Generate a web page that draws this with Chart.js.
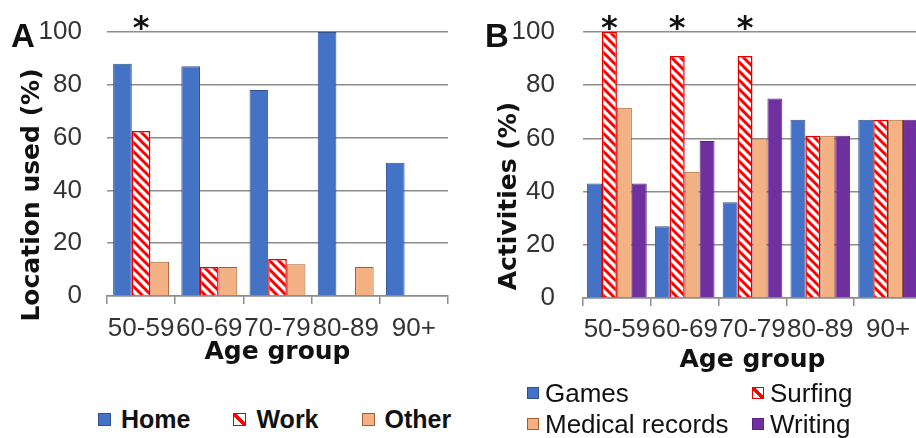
<!DOCTYPE html>
<html>
<head>
<meta charset="utf-8">
<script src="https://cdn.jsdelivr.net/npm/chart.js@4.4.1/dist/chart.umd.min.js"></script>
<style>
  html, body { margin: 0; padding: 0; background: #fff; overflow: hidden; }
  #wrap { position: relative; width: 916px; height: 438px; overflow: hidden; background: #fff; }
  canvas { position: absolute; top: 0; }
  #chartA { left: 0; }
  #chartB { left: 470px; }
  .panel { position: absolute; font: bold 33px "Liberation Sans", Arial, sans-serif; line-height: 1; color: #111; }
  .ytitle { position: absolute; font: bold 25px "DejaVu Sans", sans-serif; line-height: 1; color: #111;
            white-space: nowrap; transform: translate(-50%, -50%) rotate(-90deg); }
  .legendA { position: absolute; left: 98px; top: 407px; display: flex; align-items: center; gap: 43px;
             font: bold 25px "Liberation Sans", Arial, sans-serif; line-height: 1; color: #111; }
  .legendB { position: absolute; left: 527px; top: 377px; display: grid; grid-template-columns: 225px auto;
             grid-auto-rows: 31px; align-items: center;
             font: 26px "Liberation Sans", Arial, sans-serif; line-height: 1; color: #111; }
  .item { display: flex; align-items: center; white-space: nowrap; }
  .legendA .sw { width: 13px; height: 13px; margin-right: 10px; box-sizing: border-box; }
  .legendB .sw { width: 12px; height: 12px; margin-right: 6px; box-sizing: border-box; }
</style>
</head>
<body>
<div id="wrap">
  <canvas id="chartA" width="460" height="380"></canvas>
  <canvas id="chartB" width="470" height="380"></canvas>
  <div class="panel" style="left:11px; top:19px;">A</div>
  <div class="panel" style="left:485px; top:19px;">B</div>
  <div class="ytitle" id="ytA" style="left:30px; top:195px;"></div>
  <div class="ytitle" id="ytB" style="left:507px; top:196px;"></div>
  <div class="legendA" id="legA"></div>
  <div class="legendB" id="legB"></div>
</div>
<script>
// Age groups shared by both panels
const ageGroups = ['50-59', '60-69', '70-79', '80-89', '90+'];

// Panel A: location where the internet is used (%)
const homeA  = [88, 87, 78, 100, 50.5];
const workA  = [62.5, 11, 14, 0, 0];
const otherA = [13, 11, 12, 11, 0];
const starsA = [true, false, false, false, false];

// Panel B: online activities (%)
const gamesB   = [43, 27, 36, 67, 67];
const surfingB = [100, 91, 91, 61, 67];
const medicalB = [71.5, 47.5, 60, 61, 67];
const writingB = [43, 59, 75, 61, 67];
const starsB   = [true, true, true, false, false];

const yTickValues = [0, 20, 40, 60, 80, 100];

const titleA = 'Location used (%)';
const titleB = 'Activities (%)';
const xTitle = 'Age group';
const namesA = ['Home', 'Work', 'Other'];
const namesB = ['Games', 'Surfing', 'Medical records', 'Writing'];

// colours
const BLUE = '#4472C4', BLUE_EDGE = '#2F528F';
const ORANGE = '#F4B183', ORANGE_EDGE = '#A65E2E';
const PURPLE = '#7030A0', PURPLE_EDGE = '#5B2483';
const RED = '#FF0000', RED_EDGE = '#E00000';
const GRID = '#8C8C8C';
const TICK_TXT = '#333333';

// red diagonal hatch on white
function makeHatch() {
  const s = 9;
  const c = document.createElement('canvas');
  c.width = s; c.height = s;
  const g = c.getContext('2d');
  g.fillStyle = '#ffffff';
  g.fillRect(0, 0, s, s);
  g.strokeStyle = RED;
  g.lineWidth = 3;
  g.beginPath();
  g.moveTo(-2, -2); g.lineTo(s + 2, s + 2);
  g.moveTo(-2, s - 2); g.lineTo(2, s + 2);
  g.moveTo(s - 2, -2); g.lineTo(s + 2, 2);
  g.stroke();
  return g.createPattern(c, 'repeat');
}

const hatchA = makeHatch();
const hatchB = makeHatch();

const edge = (w) => (ctx) => (ctx.raw ? w : 0);

// significance asterisks above the bars of one dataset
const sigStars = {
  id: 'sigStars',
  afterDatasetsDraw(chart, args, opts) {
    const meta = chart.getDatasetMeta(opts.dataset);
    const ctx = chart.ctx;
    ctx.save();
    ctx.font = 'bold 32px "DejaVu Sans"';
    ctx.fillStyle = '#111';
    ctx.textAlign = 'center';
    ctx.textBaseline = 'alphabetic';
    opts.flags.forEach((on, i) => {
      if (on) ctx.fillText('*', meta.data[i].x, chart.chartArea.top + 6);
    });
    ctx.restore();
  }
};

function baseOptions(cfg) {
  return {
    responsive: false,
    animation: false,
    layout: { padding: { left: 0, right: cfg.padRight, top: 32, bottom: 0 } },
    datasets: { bar: { categoryPercentage: cfg.catPct, barPercentage: 1, borderSkipped: 'start' } },
    plugins: {
      legend: { display: false },
      tooltip: { enabled: false },
      sigStars: { dataset: 1, flags: cfg.stars }
    },
    scales: {
      x: {
        grid: { display: true, drawOnChartArea: false, drawTicks: true, tickLength: 8, color: GRID, lineWidth: 1.5 },
        border: { display: true, color: GRID, width: 1.5 },
        ticks: { font: { family: 'Liberation Sans', size: 26 }, color: TICK_TXT, padding: cfg.xTickPad,
                 maxRotation: 0, minRotation: 0, autoSkip: false },
        title: { display: true, text: xTitle, color: '#111',
                 font: { family: 'DejaVu Sans', weight: 'bold', size: 25 },
                 padding: { top: 0, bottom: cfg.xTitlePad } },
        afterFit(scale) {
          scale.height = cfg.xHeight;
          scale.paddingLeft = 0;
          scale.paddingRight = 0;
        }
      },
      y: {
        min: 0, max: 100,
        afterBuildTicks(scale) { scale.ticks = yTickValues.map(v => ({ value: v })); },
        grid: { color: GRID, lineWidth: 1.5, drawTicks: false },
        border: { display: false },
        ticks: { font: { family: 'Liberation Sans', size: 26 }, color: TICK_TXT, padding: cfg.yTickPad },
        afterFit(scale) {
          scale.width = cfg.yWidth;
          scale.paddingTop = 0;
          scale.paddingBottom = 0;
        }
      }
    }
  };
}

new Chart(document.getElementById('chartA'), {
  type: 'bar',
  data: {
    labels: ageGroups,
    datasets: [
      { label: namesA[0], data: homeA,  backgroundColor: BLUE,   borderColor: BLUE_EDGE,   borderWidth: edge(1) },
      { label: namesA[1], data: workA,  backgroundColor: hatchA, borderColor: RED_EDGE,    borderWidth: edge(1.5) },
      { label: namesA[2], data: otherA, backgroundColor: ORANGE, borderColor: ORANGE_EDGE, borderWidth: edge(1) }
    ]
  },
  options: baseOptions({ padRight: 12, catPct: 0.82, stars: starsA, xTickPad: 9, xTitlePad: 13,
                         xHeight: 84, yTickPad: 25, yWidth: 107 }),
  plugins: [sigStars]
});

new Chart(document.getElementById('chartB'), {
  type: 'bar',
  data: {
    labels: ageGroups,
    datasets: [
      { label: namesB[0], data: gamesB,   backgroundColor: BLUE,   borderColor: BLUE_EDGE,   borderWidth: edge(1) },
      { label: namesB[1], data: surfingB, backgroundColor: hatchB, borderColor: RED_EDGE,    borderWidth: edge(1.5) },
      { label: namesB[2], data: medicalB, backgroundColor: ORANGE, borderColor: ORANGE_EDGE, borderWidth: edge(1) },
      { label: namesB[3], data: writingB, backgroundColor: PURPLE, borderColor: PURPLE_EDGE, borderWidth: edge(1) }
    ]
  },
  options: baseOptions({ padRight: 18, catPct: 0.88, stars: starsB, xTickPad: 8, xTitlePad: 5,
                         xHeight: 82, yTickPad: 28, yWidth: 113 }),
  plugins: [sigStars]
});

// axis titles and legends
document.getElementById('ytA').textContent = titleA;
document.getElementById('ytB').textContent = titleB;

const swatchCss = {
  Home: `background:${BLUE};border:1px solid ${BLUE_EDGE};`,
  Games: `background:${BLUE};border:1px solid ${BLUE_EDGE};`,
  Work: `background:linear-gradient(45deg,#fff 38%,${RED} 38%,${RED} 62%,#fff 62%);border:1.5px solid ${RED_EDGE};`,
  Surfing: `background:linear-gradient(45deg,#fff 38%,${RED} 38%,${RED} 62%,#fff 62%);border:1.5px solid ${RED_EDGE};`,
  Other: `background:${ORANGE};border:1px solid ${ORANGE_EDGE};`,
  'Medical records': `background:${ORANGE};border:1px solid ${ORANGE_EDGE};`,
  Writing: `background:${PURPLE};border:1px solid ${PURPLE_EDGE};`
};

function fillLegend(el, names) {
  names.forEach(n => {
    const it = document.createElement('div');
    it.className = 'item';
    const sw = document.createElement('span');
    sw.className = 'sw';
    sw.style.cssText = swatchCss[n];
    const tx = document.createElement('span');
    tx.textContent = n;
    it.appendChild(sw);
    it.appendChild(tx);
    el.appendChild(it);
  });
}
fillLegend(document.getElementById('legA'), namesA);
// two columns: Games / Surfing, Medical records / Writing
fillLegend(document.getElementById('legB'), namesB);
</script>
</body>
</html>
